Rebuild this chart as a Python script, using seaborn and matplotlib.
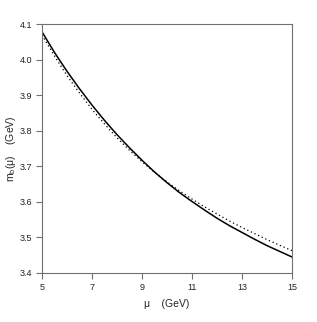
import numpy as np
import pandas as pd
import matplotlib
matplotlib.use("Agg")
import matplotlib.pyplot as plt
import seaborn as sns

# values
mu = [5, 5.5, 6, 6.5, 7, 7.5, 8, 8.5, 9, 9.5, 10, 10.5, 11, 11.5, 12, 12.5,
      13, 13.5, 14, 14.5, 15]
mb_solid = [4.078, 4.020, 3.967, 3.918, 3.872, 3.829, 3.789, 3.752, 3.717,
            3.684, 3.654, 3.626, 3.601, 3.577, 3.554, 3.533, 3.514, 3.495,
            3.477, 3.461, 3.445]
mb_dotted = [4.069, 4.010, 3.955, 3.906, 3.860, 3.819, 3.780, 3.745, 3.713,
             3.683, 3.656, 3.631, 3.608, 3.586, 3.566, 3.546, 3.528, 3.511,
             3.494, 3.478, 3.463]

xticks = [5, 7, 9, 11, 13, 15]
yticks = [3.4, 3.5, 3.6, 3.7, 3.8, 3.9, 4.0, 4.1]

df = pd.DataFrame({"mu": mu + mu,
                   "mb": mb_solid + mb_dotted,
                   "curve": ["solid"] * len(mu) + ["dotted"] * len(mu)})

sns.set_style("ticks")
plt.rcParams["font.family"] = ["Liberation Sans", "DejaVu Sans"]

fig = plt.figure(figsize=(3.17, 3.22), dpi=100)
ax = fig.add_axes([42 / 317, 1 - 273 / 322, 250 / 317, 249 / 322])

sns.lineplot(data=df[df.curve == "solid"], x="mu", y="mb", color="black",
             linewidth=1.1, ax=ax, estimator=None)
sns.lineplot(data=df[df.curve == "dotted"], x="mu", y="mb", color="black",
             linewidth=0.9, linestyle=(0, (1, 2.2)), ax=ax, estimator=None)

ax.set_xlim(5, 15)
ax.set_ylim(3.4, 4.1)
ax.set_xticks(xticks)
ax.set_xticklabels([str(t) for t in xticks])
ax.set_yticks(yticks)
ax.set_yticklabels([f"{t:.1f}" for t in yticks])

for s in ax.spines.values():
    s.set_color("#707070")
    s.set_linewidth(0.8)
ax.tick_params(direction="out", length=4, width=0.8, color="#707070",
               labelsize=6.5, labelcolor="#222222", pad=3)

ax.set_xlabel("\u03bc    (GeV)", fontsize=7.5, labelpad=5)
ax.set_ylabel("m$_\\mathregular{b}$(\u03bc)    (GeV)", fontsize=7.5, labelpad=1)

fig.savefig("out.png", dpi=100)
